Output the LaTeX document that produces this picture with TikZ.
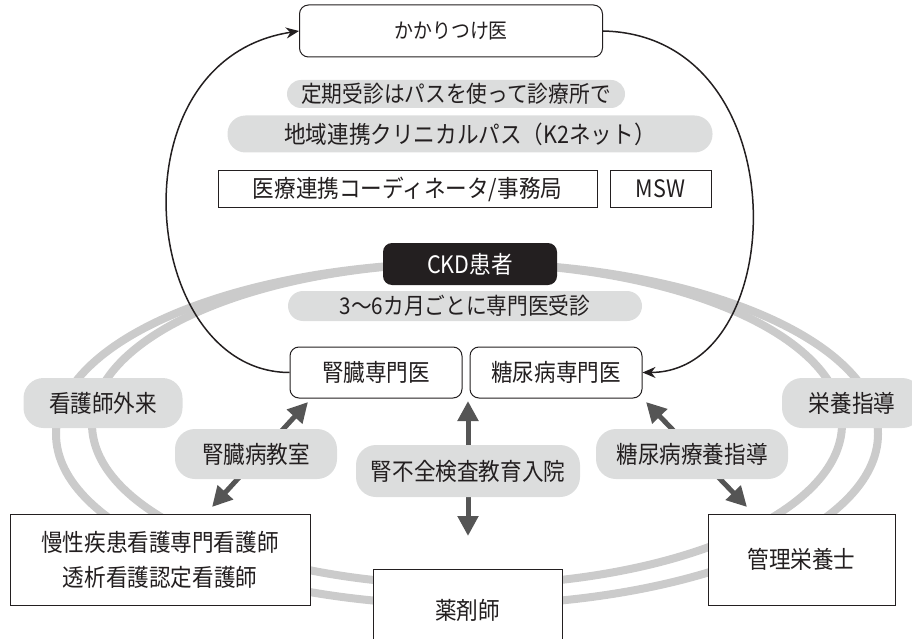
\documentclass[tikz,border=0pt]{standalone}
\usepackage{fontspec}
\setmainfont{Noto Sans CJK JP}[FakeStretch=0.9]
\usetikzlibrary{arrows.meta}
\definecolor{band}{HTML}{CBCBCB}
\definecolor{pill}{HTML}{DCDDDD}
\definecolor{darr}{HTML}{555555}
\definecolor{ink}{HTML}{231F20}
\begin{document}
\begin{tikzpicture}[x=1pt,y=-1pt,
  every node/.style={inner sep=0pt, text=ink, align=center},
  fs/.style={font=\fontsize{#1}{35}\selectfont},
  rbox/.style={draw=ink, line width=1pt, fill=white, rounded corners=9pt},
  sbox/.style={draw=ink, line width=1pt, fill=white},
  pillbox/.style={fill=pill, rounded corners=#1},
  garrow/.style={draw=darr, line width=5pt, {Triangle[width=20pt,length=20pt]}-{Triangle[width=20pt,length=20pt]}},
  carrow/.style={draw=ink, line width=1.5pt, -{Stealth[length=13pt,width=11pt]}},
  bandline/.style={draw=band, line width=8pt}
]
\useasboundingbox (0,0) rectangle (912,639);
\clip (0,0) rectangle (912,639);
% gray bands
\draw[bandline] (467,434) ellipse [x radius=411pt, y radius=171pt];
\draw[bandline] (467,424) ellipse [x radius=375pt, y radius=161pt];

% top nodes
\node[rbox, minimum width=303pt, minimum height=52pt, fs=21] (kakari) at (451,31) {かかりつけ医};
\node[pillbox=14pt, minimum width=338pt, minimum height=28pt, fs=23] (teiki) at (456,94) {定期受診はパスを使って診療所で};
\node[pillbox=18pt, minimum width=485pt, minimum height=37pt, fs=24] (chiiki) at (470,134) {地域連携クリニカルパス（K2ネット）};
\node[sbox, minimum width=379pt, minimum height=36pt, fs=24] (iryo) at (407.5,189) {医療連携コーディネータ/事務局};
\node[sbox, minimum width=101pt, minimum height=36pt, fs=24] (msw) at (660.5,189) {MSW};
\node[fill=ink, rounded corners=9pt, minimum width=174pt, minimum height=42pt, fs=24, text=white] (ckd) at (470,264) {CKD患者};
\node[pillbox=15pt, minimum width=354pt, minimum height=30pt, fs=23] (period) at (465,306) {3〜6カ月ごとに専門医受診};
\node[rbox, minimum width=172pt, minimum height=51pt, fs=24] (jinzo) at (376,372.5) {腎臓専門医};
\node[rbox, minimum width=172pt, minimum height=51pt, fs=24] (tonyo) at (556,372.5) {糖尿病専門医};

% black curved connectors
\draw[carrow] (jinzo.west) .. controls (140,372) and (110,60) .. (kakari.west);
\draw[carrow] (kakari.east) .. controls (800,35) and (790,372) .. (tonyo.east);

% bottom boxes
\node[sbox, minimum width=300pt, minimum height=91pt, fs=24] (nurse) at (160,559.5) {慢性疾患看護専門看護師\\透析看護認定看護師};
\node[sbox, minimum width=189pt, minimum height=78pt, anchor=north] (yaku) at (467.5,569) {};
\node[fs=24] (yakut) at (467.5,610) {薬剤師};
\node[sbox, minimum width=187pt, minimum height=91pt, fs=24] (eiyo) at (801.5,559.5) {管理栄養士};

% gray double arrows
\coordinate (a1) at (308,402);
\coordinate (a2) at (212,507);
\coordinate (b1) at (468,401);
\coordinate (b2) at (468,536);
\coordinate (c1) at (646,402);
\coordinate (c2) at (747,507);
\draw[garrow] (a1) -- (a2);
\draw[garrow] (b1) -- (b2);
\draw[garrow] (c1) -- (c2);

% gray pills on arrows / bands
\node[pillbox=20pt, minimum width=159pt, minimum height=50pt, fs=24] (gairai) at (103,403) {看護師外来};
\node[pillbox=20pt, minimum width=140pt, minimum height=50pt, fs=24] (shido) at (852,403) {栄養指導};
\node[pillbox=20pt, minimum width=162pt, minimum height=50pt, fs=24] (kyoshitsu) at (256,454) {腎臓病教室};
\node[pillbox=20pt, minimum width=224pt, minimum height=52pt, fs=24] (nyuin) at (468,471) {腎不全検査教育入院};
\node[pillbox=20pt, minimum width=192pt, minimum height=50pt, fs=24] (ryoyo) at (692,454) {糖尿病療養指導};
\end{tikzpicture}
\end{document}
